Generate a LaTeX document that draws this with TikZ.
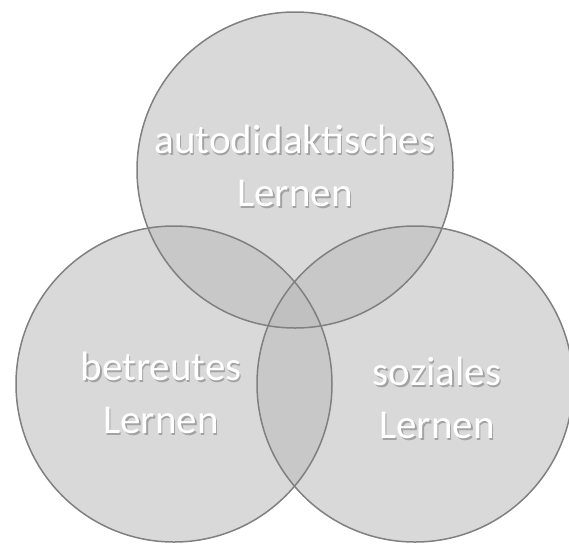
\documentclass[tikz,border=0pt]{standalone}
\usepackage{fontspec}
\setmainfont{Carlito}
\definecolor{vennfill}{RGB}{186,186,186}
\definecolor{vennedge}{RGB}{128,128,128}
\definecolor{shadowgray}{RGB}{120,120,120}
\begin{document}
\begin{tikzpicture}[x=1pt,y=-1pt,
  venn/.style={circle, minimum size=316pt, inner sep=0pt, fill=vennfill, fill opacity=0.55},
  edge/.style={draw=vennedge, line width=1.5pt},
  lbl/.style={align=center, text=white, font=\fontsize{41}{53}\selectfont, inner sep=0pt},
  lblshadow/.style={align=center, text=shadowgray, font=\fontsize{41}{53}\selectfont, inner sep=0pt, opacity=0.55}
]
\useasboundingbox (0,0) rectangle (569,544);
\node[venn] (top) at (295,170) {};
\node[venn] (left) at (174,384) {};
\node[venn] (right) at (415,384) {};
\draw[edge] (top.center) circle[radius=158];
\draw[edge] (left.center) circle[radius=158];
\draw[edge] (right.center) circle[radius=158];
\node[lblshadow] (ts) at (296.5,167.5) {autodidaktisches\\Lernen};
\node[lbl] (t) at (295,166) {autodidaktisches\\Lernen};
\node[lblshadow] (ls) at (162.5,394.5) {betreutes\\Lernen};
\node[lbl] (l) at (161,393) {betreutes\\Lernen};
\node[lblshadow] (rs) at (438.5,399.5) {soziales\\Lernen};
\node[lbl] (r) at (437,398) {soziales\\Lernen};
\end{tikzpicture}
\end{document}
